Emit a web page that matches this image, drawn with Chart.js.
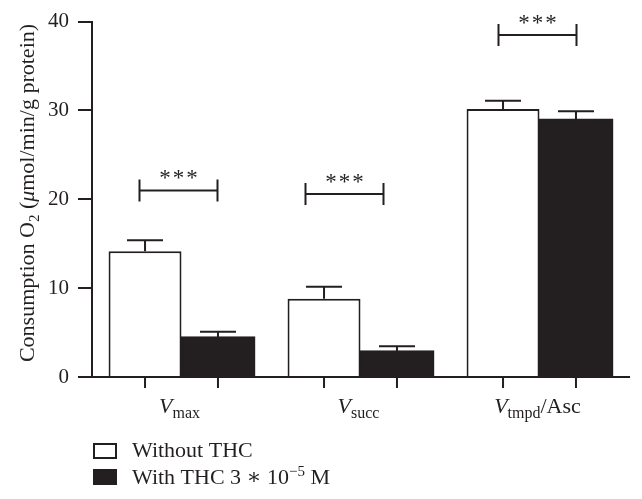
<!DOCTYPE html>
<html>
<head>
<meta charset="utf-8">
<script src="https://cdn.jsdelivr.net/npm/chart.js@4.4.0/dist/chart.umd.min.js"></script>
<style>
  body { margin: 0; background: #fff; }
</style>
</head>
<body>
<canvas id="grafico" width="642" height="499"></canvas>
<script>
// Datos
const categorias = ["V_max", "V_succ", "V_tmpd/Asc"];
const sinTHC = [14.15, 8.82, 30.17];
const errSinTHC = [1.25, 1.34, 0.93];
const conTHC = [4.48, 2.91, 28.98];
const errConTHC = [0.60, 0.56, 0.92];
const nivelSignif = [21.0, 20.6, 38.5];
const marcaSignif = ["***", "***", "***"];
const ticksY = [0, 10, 20, 30, 40];
const etiquetas = ["Without THC", "With THC 3 * 10^-5 M"];

const NEGRO = "#231f20";
const SERIF = '"Liberation Serif", "DejaVu Serif", serif';
// desplazamiento horizontal de cada corchete respecto al centro de la categoría (px)
const desplCorchete = [-3, -16, -2];

Chart.defaults.font.family = SERIF;
Chart.defaults.color = NEGRO;

// dibuja texto con tramos de distinto estilo (subíndices, cursiva...)
function textoRico(ctx, tramos, x, y, centrado) {
  let total = 0;
  tramos.forEach(t => { ctx.font = t.font; total += ctx.measureText(t.t).width; });
  let cx = centrado ? x - total / 2 : x;
  tramos.forEach(t => {
    ctx.font = t.font;
    ctx.fillText(t.t, cx, y + (t.dy || 0));
    cx += ctx.measureText(t.t).width;
  });
}

function partesCategoria(c) {
  const m = c.match(/^([^_]+)_([^/]+)(.*)$/);
  return [
    { t: m[1], font: "italic 22px " + SERIF },
    { t: m[2], font: "16px " + SERIF, dy: 5 },
    { t: m[3], font: "22px " + SERIF }
  ];
}

const extras = {
  id: 'extras',
  afterDatasetsDraw(chart) {
    const ctx = chart.ctx;
    const ys = chart.scales.y, xs = chart.scales.x;
    const errores = [errSinTHC, errConTHC];
    const base = ys.getPixelForValue(0);
    ctx.save();
    ctx.strokeStyle = NEGRO;
    ctx.fillStyle = NEGRO;
    ctx.lineWidth = 2;

    // barras de error (solo hacia arriba) y marcas bajo cada barra
    chart.data.datasets.forEach((ds, d) => {
      chart.getDatasetMeta(d).data.forEach((bar, i) => {
        const yTop = ys.getPixelForValue(ds.data[i] + errores[d][i]);
        ctx.beginPath();
        ctx.moveTo(bar.x, bar.y);
        ctx.lineTo(bar.x, yTop);
        ctx.moveTo(bar.x - 18, yTop);
        ctx.lineTo(bar.x + 18, yTop);
        ctx.moveTo(bar.x, base);
        ctx.lineTo(bar.x, base + 11);
        ctx.stroke();
      });
    });

    // corchetes de significancia
    categorias.forEach((c, i) => {
      const cx = xs.getPixelForValue(i) + desplCorchete[i];
      const y = ys.getPixelForValue(nivelSignif[i]);
      ctx.beginPath();
      ctx.moveTo(cx - 39, y); ctx.lineTo(cx + 39, y);
      ctx.moveTo(cx - 39, y - 11); ctx.lineTo(cx - 39, y + 11);
      ctx.moveTo(cx + 39, y - 11); ctx.lineTo(cx + 39, y + 11);
      ctx.stroke();
      ctx.font = "23px " + SERIF;
      ctx.textAlign = "center";
      ctx.textBaseline = "middle";
      ctx.fillText(marcaSignif[i].split("").join("\u200A"), cx, y - 11);
    });

    // etiquetas del eje x
    ctx.textAlign = "left";
    ctx.textBaseline = "alphabetic";
    categorias.forEach((c, i) => {
      textoRico(ctx, partesCategoria(c), xs.getPixelForValue(i) - 2, 413, true);
    });

    // título del eje y
    ctx.save();
    ctx.translate(34, 193);
    ctx.rotate(-Math.PI / 2);
    textoRico(ctx, [
      { t: "Consumption O", font: "22px " + SERIF },
      { t: "2", font: "15px " + SERIF, dy: 5 },
      { t: " (", font: "22px " + SERIF },
      { t: "\u03bc", font: "italic 22px " + SERIF },
      { t: "mol/min/g protein)", font: "22px " + SERIF }
    ], 0, 0, true);
    ctx.restore();

    // leyenda
    const filas = [444, 470];
    chart.data.datasets.forEach((ds, d) => {
      const y0 = filas[d];
      ctx.fillStyle = ds.backgroundColor;
      ctx.fillRect(94, y0, 22, 14);
      ctx.strokeRect(94, y0, 22, 14);
      ctx.fillStyle = NEGRO;
      const p = etiquetas[d].split("^");
      if (p.length === 1) {
        textoRico(ctx, [{ t: p[0], font: "22px " + SERIF }], 132, y0 + 13, false);
      } else {
        const [exp, resto] = p[1].split(" ");
        textoRico(ctx, [
          { t: p[0].replace("*", "\u2217"), font: "22px " + SERIF },
          { t: exp.replace("-", "\u2212"), font: "15px " + SERIF, dy: -8 },
          { t: " " + resto, font: "22px " + SERIF }
        ], 132, y0 + 14, false);
      }
    });
    ctx.restore();
  }
};

new Chart(document.getElementById("grafico"), {
  type: 'bar',
  data: {
    labels: categorias,
    datasets: [
      { label: etiquetas[0], data: sinTHC, backgroundColor: '#ffffff', borderColor: NEGRO, borderWidth: 2 },
      { label: etiquetas[1], data: conTHC, backgroundColor: NEGRO, borderColor: NEGRO, borderWidth: 2, inflateAmount: 1 }
    ]
  },
  options: {
    responsive: false,
    animation: false,
    devicePixelRatio: 1,
    layout: { padding: { top: 20, right: 13, left: 0, bottom: 0 } },
    datasets: { bar: { categoryPercentage: 0.815, barPercentage: 1 } },
    plugins: { legend: { display: false }, tooltip: { enabled: false } },
    scales: {
      x: {
        ticks: { display: false },
        grid: { display: false },
        border: { color: NEGRO, width: 2 },
        afterFit: s => { s.height = 122; }
      },
      y: {
        min: 0,
        max: 40,
        afterBuildTicks: s => { s.ticks = ticksY.map(v => ({ value: v })); },
        ticks: { font: { size: 21 }, padding: 9, color: NEGRO },
        grid: { drawOnChartArea: false, tickLength: 14, color: NEGRO, lineWidth: 2 },
        border: { color: NEGRO, width: 2 },
        afterFit: s => { s.width = 92; }
      }
    }
  },
  plugins: [extras]
});
</script>
</body>
</html>
